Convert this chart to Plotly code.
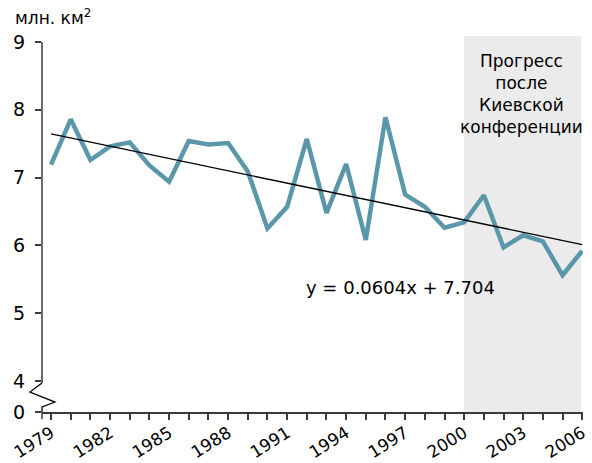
import plotly.graph_objects as go

# ---- data ----
years = list(range(1979, 2007))
extent = [7.19, 7.86, 7.26, 7.46, 7.52, 7.18, 6.94, 7.54, 7.49, 7.51,
          7.09, 6.25, 6.57, 7.57, 6.48, 7.20, 6.08, 7.89, 6.75, 6.57,
          6.26, 6.34, 6.74, 5.97, 6.15, 6.06, 5.56, 5.92]
trend_slope = -0.0604
trend_intercept = 7.704
trend_label = "y = 0.0604x + 7.704"
y_tick_vals = [3.543, 4, 5, 6, 7, 8, 9]
y_tick_text = ["0", "4", "5", "6", "7", "8", "9"]
x_tick_text = [str(y) if (y - 1979) % 3 == 0 else "" for y in years]
unit_label = "млн. км<sup>2</sup>"
period_label = "Прогресс<br>после<br>Киевской<br>конференции"
period_start, period_end = 2000, 2006

trend = [trend_intercept + trend_slope * (i + 1) for i in range(len(years))]

FONT = "DejaVu Sans"
AX = "#3a3a3a"
YMIN, YMAX = 3.543, 9.0
XMIN, XMAX = 1978.54, 2006.04

fig = go.Figure()
fig.add_trace(go.Scatter(x=years, y=extent, mode="lines",
                         line=dict(color="#5b97ab", width=4.5),
                         showlegend=False, hoverinfo="skip"))
fig.add_trace(go.Scatter(x=years, y=trend, mode="lines",
                         line=dict(color="black", width=1.3),
                         showlegend=False, hoverinfo="skip"))

shapes = []
# shaded period
shapes.append(dict(type="rect", xref="x", yref="paper", x0=period_start, x1=period_end - 0.05,
                   y0=0, y1=1.016, fillcolor="#ebebeb", line=dict(width=0), layer="below"))
# y axis line with break
shapes.append(dict(type="line", xref="paper", yref="y", x0=0, x1=0, y0=9, y1=3.97,
                   line=dict(color=AX, width=1.5)))
shapes.append(dict(type="path", xref="paper", yref="y",
                   path="M 0 3.97 L -0.0222 3.838 L 0.024 3.69 L 0 3.617 L 0 3.543",
                   line=dict(color="black", width=1.3)))
shapes.append(dict(type="line", xref="paper", yref="paper", x0=0, x1=0, y0=0, y1=-0.019,
                   line=dict(color=AX, width=1.5)))
fig.update_layout(shapes=shapes)

fig.add_annotation(xref="paper", yref="paper", x=-0.054, y=1.068, xanchor="left", yanchor="middle",
                   text=unit_label, showarrow=False, font=dict(family=FONT, size=17, color="black"))
fig.add_annotation(xref="x", yref="paper", x=(period_start + period_end) / 2 - 0.1, y=0.982,
                   xanchor="center", yanchor="top", text=period_label, showarrow=False,
                   font=dict(family=FONT, size=17, color="black"))
fig.add_annotation(xref="paper", yref="paper", x=0.484, y=0.337, xanchor="left", yanchor="middle",
                   text=trend_label, showarrow=False, font=dict(family=FONT, size=18, color="black"))

fig.update_xaxes(range=[XMIN, XMAX], tickvals=years, ticktext=x_tick_text, tickangle=-32,
                 ticks="outside", ticklen=6, tickcolor=AX, tickwidth=1.5, ticklabelstandoff=-3,
                 showline=True, linecolor=AX, linewidth=1.5, showgrid=False, zeroline=False,
                 tickfont=dict(family=FONT, size=17, color="black"), automargin=False)
fig.update_yaxes(range=[YMIN, YMAX], tickvals=y_tick_vals, ticktext=y_tick_text,
                 ticks="outside", ticklen=6, tickcolor=AX, tickwidth=1.5,
                 showline=False, showgrid=False, zeroline=False, ticklabelstandoff=6,
                 tickfont=dict(family=FONT, size=19, color="black"), automargin=False)

fig.update_layout(width=592, height=463, margin=dict(l=42, r=9, t=42, b=51),
                  plot_bgcolor="white", paper_bgcolor="white",
                  font=dict(family=FONT))
fig.write_html("out.html", config={"displayModeBar": False},
               post_script="document.body.style.margin='0';document.body.style.overflow='hidden';")
